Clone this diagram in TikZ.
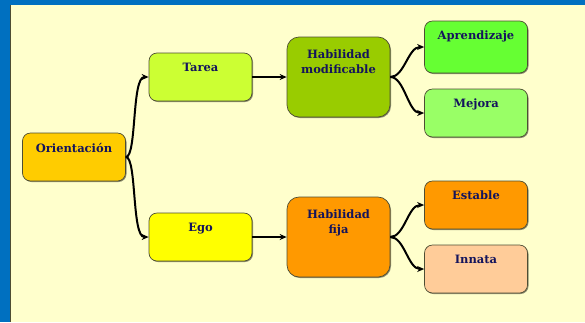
\documentclass[tikz,border=0pt]{standalone}
\usepackage{fontspec}
\setmainfont{DejaVu Serif}
\usetikzlibrary{arrows.meta,shadows}
\definecolor{bgyellow}{HTML}{FFFFCC}
\definecolor{frameblue}{HTML}{0070C0}
\definecolor{navytext}{HTML}{14145C}
\definecolor{edgeline}{HTML}{4D4D33}
\tikzset{
  box/.style={draw=edgeline, line width=0.7pt, rounded corners=8pt,
    minimum width=103pt, minimum height=48pt, inner sep=0pt,
    drop shadow={shadow xshift=1pt, shadow yshift=-1pt, fill=black, opacity=0.45}},
  bigbox/.style={box, rounded corners=12pt, minimum height=80pt},
  caption/.style={font=\bfseries\fontsize{11.5}{15}\selectfont, text=navytext,
    align=center, inner sep=0pt},
  link/.style={line width=2pt, -{Stealth[length=7pt,width=6pt]}},
}
\begin{document}
\begin{tikzpicture}[x=1pt,y=-1pt]
  % page background and blue frame
  \fill[bgyellow] (0,0) rectangle (585,322);
  \fill[frameblue] (0,0) rectangle (585,5);
  \fill[frameblue] (0,0) rectangle (10,322);
  \draw[edgeline, line width=0.6pt] (10.3,5) -- (10.3,322);
  \useasboundingbox (0,0) rectangle (585,322);

  % boxes
  \node[box, fill={rgb,255:red,255;green,204;blue,0}] (ori) at (74,157) {};
  \node[box, fill={rgb,255:red,204;green,255;blue,51}] (tarea) at (200.5,77) {};
  \node[box, fill={rgb,255:red,255;green,255;blue,0}] (ego) at (200.5,237) {};
  \node[bigbox, fill={rgb,255:red,153;green,204;blue,0}] (hmod) at (338.5,77) {};
  \node[bigbox, fill={rgb,255:red,255;green,153;blue,0}] (hfija) at (338.5,237) {};
  \node[box, minimum height=52pt, fill={rgb,255:red,102;green,255;blue,51}] (apr) at (476,47) {};
  \node[box, fill={rgb,255:red,153;green,255;blue,102}] (mej) at (476,113) {};
  \node[box, fill={rgb,255:red,255;green,153;blue,0}] (est) at (476,205) {};
  \node[box, fill={rgb,255:red,255;green,204;blue,153}] (inn) at (476,269) {};

  % captions near the top of each box
  \node[caption, anchor=north] (tori) at ([yshift=-10pt]ori.north) {Orientación};
  \node[caption, anchor=north] (ttarea) at ([yshift=-10pt]tarea.north) {Tarea};
  \node[caption, anchor=north] (tego) at ([yshift=-10pt]ego.north) {Ego};
  \node[caption, anchor=north] (thmod) at ([yshift=-12.5pt]hmod.north) {Habilidad\\modificable};
  \node[caption, anchor=north] (thfija) at ([yshift=-12.5pt]hfija.north) {Habilidad\\fija};
  \node[caption, anchor=north] (tapr) at ([yshift=-10pt]apr.north) {Aprendizaje};
  \node[caption, anchor=north] (tmej) at ([yshift=-10pt]mej.north) {Mejora};
  \node[caption, anchor=north] (test) at ([yshift=-10pt]est.north) {Estable};
  \node[caption, anchor=north] (tinn) at ([yshift=-10pt]inn.north) {Innata};

  % branching connectors
  \draw[link] (ori.east) .. controls +(11,0) and +(-17,0) .. (tarea.west);
  \draw[link] (ori.east) .. controls +(11,0) and +(-17,0) .. (ego.west);
  \draw[link] (tarea.east) -- (hmod.west);
  \draw[link] (ego.east) -- (hfija.west);
  \draw[link] (hmod.east) .. controls +(14,0) and +(-16,0) .. (apr.west);
  \draw[link] (hmod.east) .. controls +(14,0) and +(-16,0) .. (mej.west);
  \draw[link] (hfija.east) .. controls +(14,0) and +(-16,0) .. (est.west);
  \draw[link] (hfija.east) .. controls +(14,0) and +(-16,0) .. (inn.west);
\end{tikzpicture}
\end{document}
